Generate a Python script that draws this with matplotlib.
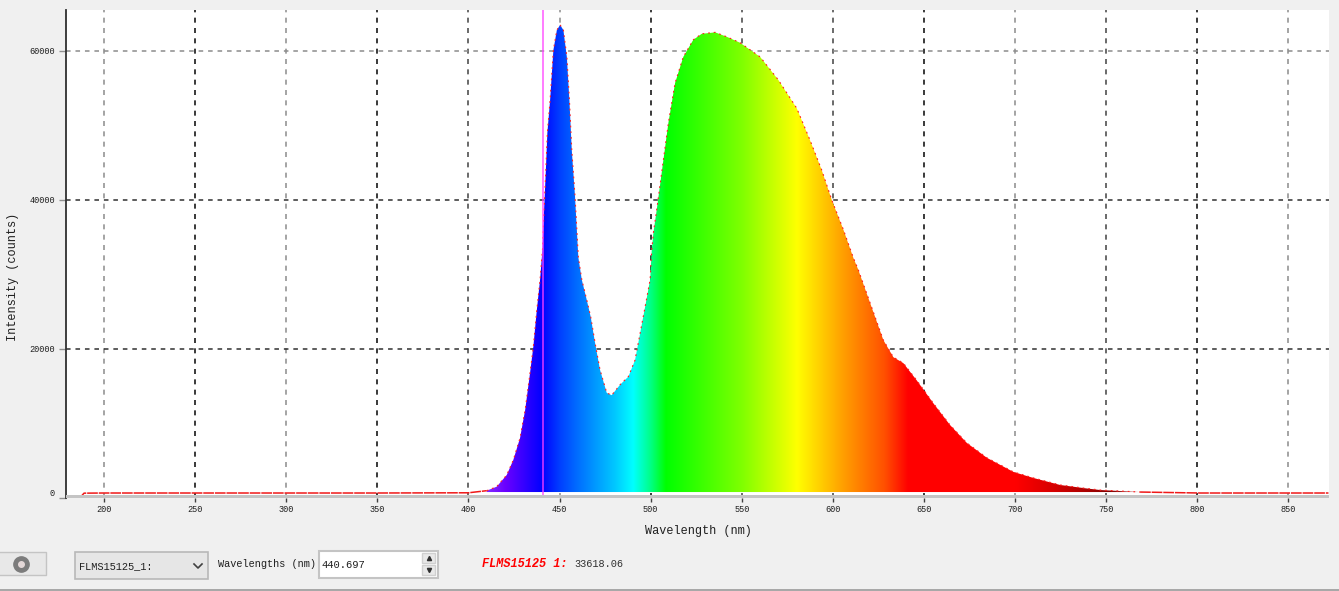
import matplotlib
matplotlib.use("Agg")
import matplotlib.pyplot as plt
import numpy as np
from matplotlib.colors import LinearSegmentedColormap
from matplotlib.patches import Rectangle

wavelengths = [179, 183.5, 187, 189, 200, 250, 300, 350, 400, 410, 415.5, 421, 424.6, 428.3, 431.1, 433.8, 435.6, 437.5,
               439.3, 440.7, 441.5, 442.4, 443.3, 444.8, 446.6, 448.5, 450.3, 452.1, 454, 455.4, 456.7, 458.5, 460.3,
               462.2, 464.9, 467.1, 469.5, 472.2, 475.9, 478.6, 483.2, 487.8, 491.4, 494.2, 496.9, 499.7, 500.6, 501.5,
               503.3, 507, 509.7, 513.4, 517.9, 523.4, 528, 535.4, 541.8, 549.1, 560.1, 570.1, 580.2, 587.5, 593.9,
               599.4, 605.8, 611.3, 614, 620.4, 627.7, 633.2, 638.7, 646, 655.2, 664.3, 673.5, 684.5, 699.1, 709.9,
               724.7, 737.3, 746.7, 768.6, 801.5, 850, 872]
intensity = [0, 0, 100, 650, 670, 670, 670, 670, 700, 980, 1520, 3090, 5100, 8050, 11800, 16800, 20300, 25200,
             29300, 33618, 38650, 43600, 49000, 53400, 60100, 62800, 63500, 62800, 59200, 53400, 46700, 40400, 32300,
             29300, 26600, 24300, 20800, 17200, 14100, 13800, 15200, 16300, 18500, 22100, 25600, 29300, 33300, 35600,
             38650, 45400, 50300, 55700, 59200, 61500, 62300, 62500, 61900, 61100, 59200, 56100, 52300, 48000, 44000,
             40000, 36000, 32200, 30600, 26200, 21200, 18900, 18100, 15800, 12700, 9800, 7400, 5400, 3500, 2700,
             1750, 1340, 1070, 800, 670, 670, 670]
x_ticks = [200, 250, 300, 350, 400, 450, 500, 550, 600, 650, 700, 750, 800, 850]
y_ticks = [0, 20000, 40000, 60000]
x_grid_dark = [250, 350, 500, 650, 800]
x_grid_mid = [400, 550, 600, 750]
x_grid_light = [200, 300, 450, 700, 850]
y_grid_dark = [20000, 40000]
y_grid_light = [60000]
cursor_nm = 440.697
fill_floor = 800
spec_stops = [405, 420, 440, 450, 460, 480, 490, 500, 508, 550, 580, 605, 628, 641, 700, 720, 737, 752, 770, 790]
spec_colors = ['#9040ff', '#6a00ff', '#0000ff', '#0040ff', '#0070ff', '#00c8ff', '#00ffff', '#00ff80', '#00ff00',
               '#80ff00', '#ffff00', '#ffa000', '#ff5000', '#ff0000', '#ff0000', '#d80000', '#b00000', '#800000',
               '#c05050', '#ffffff']

W, H = 1339, 591
BG = '#f0f0f0'
fig = plt.figure(figsize=(W/100, H/100), dpi=100, facecolor=BG)
MONO = 'Liberation Mono'
def fx(p): return p/W
def fy(p): return 1-p/H

L, R, T, B = 66, 1329, 10, 498
ax = fig.add_axes([fx(L), fy(B), (R-L)/W, (B-T)/H])
ax.set_facecolor('white')
XLIM = (179.1, 872.3)
YLIM = (0, 65500)

# grid
DASH = (3, 3.2)
for vals, col in [(x_grid_dark, '#181818'), (x_grid_mid, '#505050'), (x_grid_light, '#959595')]:
    for v in vals:
        ax.axvline(v, color=col, lw=1.2, dashes=DASH, zorder=1)
for v in y_grid_dark:
    ax.axhline(v, color='#303030', lw=1.1, dashes=DASH, zorder=1)
for v in y_grid_light:
    ax.axhline(v, color='#8c8c8c', lw=1.1, dashes=DASH, zorder=1)

# spectrum fill
wl = np.array(wavelengths, float)
it = np.array(intensity, float)
band = (wl >= 410) & (wl <= 768.6)
poly = ax.fill_between(wl[band], fill_floor, it[band], color='none', lw=0, zorder=2)
lo, hi = spec_stops[0], spec_stops[-1]
cmap = LinearSegmentedColormap.from_list(
    'spec', [((s-lo)/(hi-lo), c) for s, c in zip(spec_stops, spec_colors)], N=1024)
grad = np.linspace(0, 1, 2048).reshape(1, -1)
im = ax.imshow(grad, extent=(lo, hi, 0, YLIM[1]), aspect='auto', cmap=cmap, zorder=2, interpolation='bilinear')
im.set_clip_path(poly.get_paths()[0], transform=ax.transData)
ax.set_xlim(*XLIM)
ax.set_ylim(*YLIM)

# curve outline: sparse red on the peak, denser along the baseline
ax.plot(wl[band], it[band], color='#ff2020', lw=0.8, zorder=3, dashes=(1.6, 3.5))
left = wl <= 410
right = wl >= 768.6
ax.plot(wl[left], it[left], color='#f01818', lw=1.1, zorder=3, dashes=(7, 0.6))
ax.plot(wl[right], it[right], color='#f01818', lw=1.1, zorder=3, dashes=(7, 0.6))
# cursor
ax.axvline(cursor_nm, color='#ff40ff', lw=1.2, alpha=0.8, zorder=4)

for s in ['top', 'right', 'bottom']:
    ax.spines[s].set_visible(False)
ax.spines['left'].set_color('#303030')
ax.spines['left'].set_linewidth(1.3)

ax.set_xticks(x_ticks)
ax.set_yticks(y_ticks)
ax.set_xticklabels([str(v) for v in x_ticks], fontsize=6.2, family=MONO, color='#202020')
ax.set_yticklabels([str(v) for v in y_ticks], fontsize=6.2, family=MONO, color='#202020')
ax.get_yticklabels()[0].set_verticalalignment('bottom')
ax.tick_params(axis='x', length=3, width=1, color='#404040', pad=2)
ax.tick_params(axis='y', length=5, width=1, color='#909090', pad=3)

fig.text(fx(698), fy(531), 'Wavelength (nm)', family=MONO, fontsize=8.6, color='#202020', ha='center', va='center')
fig.text(fx(13), fy(277), 'Intensity (counts)', family=MONO, fontsize=8.6, color='#202020', rotation=90, ha='center', va='center')

# widgets
def rect(x0, y0, x1, y1, fc, ec='none', lw=1):
    fig.add_artist(Rectangle((fx(x0), fy(y1)), (x1-x0)/W, (y1-y0)/H, transform=fig.transFigure, fc=fc, ec=ec, lw=lw))
def marker(x, y, m, ms, col):
    fig.add_artist(plt.Line2D([fx(x)], [fy(y)], marker=m, ms=ms, color=col, mec=col, ls='none', transform=fig.transFigure))

rect(66, 495, 1329, 498, '#c4c4c4')
rect(-5, 552, 46, 575, '#e8e8e8', '#c4c4c4')
marker(21, 564, 'o', 11, '#7c7c7c')
marker(21, 564, 'o', 4, '#e4d8d8')
rect(75, 552, 208, 579, '#e6e6e6', '#b8b8b8', 1.2)
fig.add_artist(plt.Line2D([fx(194), fx(198), fx(202)], [fy(564), fy(568), fy(564)], color='#404040', lw=1.2, transform=fig.transFigure))
fig.text(fx(79), fy(566), 'FLMS15125_1:', family=MONO, fontsize=7.4, color='#202020', va='center')
fig.text(fx(218), fy(564), 'Wavelengths (nm)', family=MONO, fontsize=7.4, color='#202020', va='center')
rect(319, 551, 438, 578, 'white', '#c4c4c4', 1.5)
rect(422, 553, 435, 563, '#e8e8e8', '#d0d0d0')
rect(422, 565, 435, 575, '#e8e8e8', '#d0d0d0')
marker(429, 558, '^', 3, '#303030')
marker(429, 570, 'v', 3, '#303030')
fig.text(fx(321), fy(565), '440.697', family=MONO, fontsize=7.6, color='#202020', va='center')
fig.text(fx(482), fy(564), 'FLMS15125 1:', family=MONO, fontsize=8.6, color='#ff0000',
         weight='bold', style='italic', va='center')
fig.text(fx(574), fy(564), '33618.06', family=MONO, fontsize=7.4, color='#303030', va='center')
rect(0, 589, W, 591, '#a8a8a8')

fig.savefig('out.png', dpi=100, facecolor=BG)
